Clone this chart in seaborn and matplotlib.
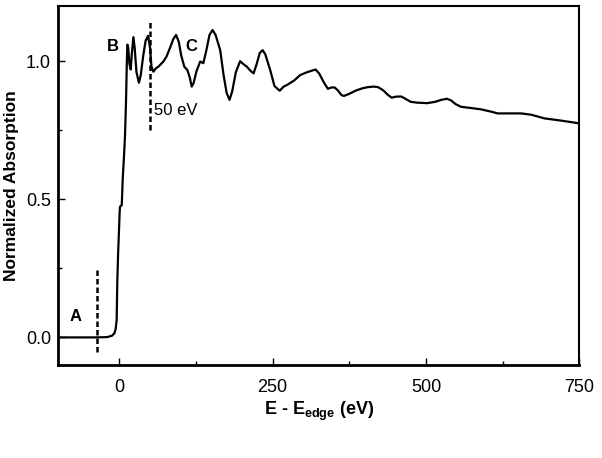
import matplotlib
matplotlib.use('Agg')
import matplotlib.pyplot as plt
import seaborn as sns
import pandas as pd
from matplotlib.ticker import MultipleLocator

# spectrum
energy = [-100, -40, -20, -12, -8, -6, -4.3, -3.3, -2, -0.5, 0.5, 1.1, 4, 5.5, 7.5,
          9.3, 11, 12.3, 13.2, 14.5, 16.5, 18.6, 20.5, 23, 25, 28, 32, 35, 39, 43,
          47, 50, 52.5, 55.6, 60, 63.7, 68, 72, 77, 83, 88, 92.6, 97, 101, 106, 111,
          115, 118, 121, 126, 132, 137, 142, 147, 152, 157, 164.5, 170, 175, 179.7,
          184, 190, 197, 202, 208, 214, 219, 224, 229, 233.7, 238, 246, 253, 261.5,
          268, 273.5, 285, 295, 306, 313, 320, 326, 333, 340, 346, 351, 356, 362,
          366, 375, 385, 395, 405, 415, 422, 430, 438, 444, 452, 460, 468, 475, 485,
          502, 515, 525, 534, 541, 548, 557, 575, 589, 605, 617, 635, 655, 672, 693,
          720, 750]
absorption = [0.0, 0.0, 0.001, 0.006, 0.015, 0.03, 0.062, 0.2, 0.3, 0.388, 0.45, 0.473,
              0.479, 0.57, 0.65, 0.73, 0.86, 1.0, 1.06, 1.05, 0.99, 0.97, 1.03, 1.087,
              1.05, 0.96, 0.922, 0.95, 1.02, 1.075, 1.092, 1.05, 0.98, 0.962, 0.975,
              0.98, 0.99, 0.999, 1.017, 1.05, 1.08, 1.095, 1.07, 1.02, 0.98, 0.968,
              0.94, 0.908, 0.92, 0.965, 0.999, 0.993, 1.04, 1.095, 1.113, 1.095, 1.04,
              0.95, 0.885, 0.86, 0.89, 0.96, 1.0, 0.99, 0.98, 0.965, 0.956, 0.99, 1.03,
              1.04, 1.025, 0.968, 0.91, 0.893, 0.908, 0.914, 0.93, 0.95, 0.96, 0.965,
              0.97, 0.955, 0.925, 0.90, 0.905, 0.905, 0.895, 0.878, 0.874, 0.882, 0.893,
              0.901, 0.906, 0.908, 0.906, 0.895, 0.878, 0.868, 0.872, 0.872, 0.862,
              0.853, 0.85, 0.848, 0.853, 0.86, 0.864, 0.858, 0.845, 0.835, 0.83, 0.826,
              0.818, 0.811, 0.811, 0.811, 0.806, 0.793, 0.785, 0.775]

# dashed markers: (energy, y from, y to)
markers = [(-36, -0.053, 0.25), (50, 0.75, 1.146)]
region_labels = [('A', -71, 0.077), ('B', -11, 1.055), ('C', 117, 1.055)]

df = pd.DataFrame({'E': energy, 'mu': absorption})

sns.set_style('ticks')
plt.rcParams['font.family'] = ['Liberation Sans', 'DejaVu Sans']
plt.rcParams['mathtext.fontset'] = 'custom'
plt.rcParams['mathtext.rm'] = 'Liberation Sans'
plt.rcParams['mathtext.bf'] = 'Liberation Sans:bold'
plt.rcParams['text.color'] = 'black'
plt.rcParams['axes.labelcolor'] = 'black'
plt.rcParams['axes.edgecolor'] = 'black'
plt.rcParams['xtick.color'] = 'black'
plt.rcParams['ytick.color'] = 'black'

fig = plt.figure(figsize=(6.02, 4.58), dpi=100)
ax = fig.add_axes([0.0963, 0.203, 0.866, 0.784])

sns.lineplot(data=df, x='E', y='mu', ax=ax, color='black', linewidth=1.6)

for e, y0, y1 in markers:
    ax.plot([e, e], [y0, y1], color='black', linestyle=(0, (2.2, 1.2)), linewidth=1.8)

for txt, e, y in region_labels:
    ax.text(e, y, txt, fontsize=12, fontweight='bold', ha='center', va='center')
ax.text(57, 0.82, '50 eV', fontsize=12, ha='left', va='center')

ax.set_xlim(-100, 750)
ax.set_ylim(-0.1, 1.2)
ax.xaxis.set_major_locator(MultipleLocator(250))
ax.xaxis.set_minor_locator(MultipleLocator(125))
ax.yaxis.set_major_locator(MultipleLocator(0.5))
ax.yaxis.set_minor_locator(MultipleLocator(0.25))
ax.set_yticks([0.0, 0.5, 1.0])
ax.set_yticklabels(['0.0', '0.5', '1.0'])
ax.tick_params(which='both', direction='in', labelsize=13, width=1)
ax.tick_params(axis='x', which='major', length=5, pad=10)
ax.tick_params(axis='y', which='major', length=5, pad=5)
ax.tick_params(which='minor', length=3)

for side in ['left', 'bottom']:
    ax.spines[side].set_linewidth(2)
for side in ['top', 'right']:
    ax.spines[side].set_linewidth(1.5)

ax.set_xlabel(r'E - E$_{\mathbf{edge}}$ (eV)', fontsize=13, fontweight='bold', labelpad=3)
ax.set_ylabel('Normalized Absorption', fontsize=12.5, fontweight='bold', labelpad=5)

fig.savefig('out.png', dpi=100)
